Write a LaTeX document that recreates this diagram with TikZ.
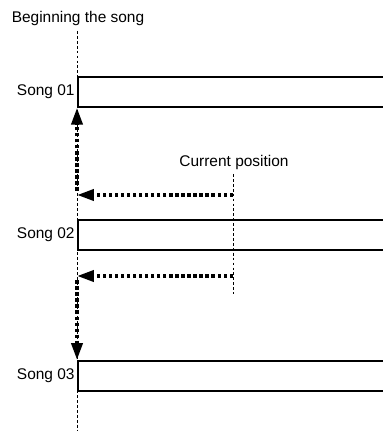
\documentclass[tikz,border=0pt]{standalone}
\usepackage{fontspec}
\setmainfont{Liberation Sans}
\usepackage{tikz}
\usetikzlibrary{arrows.meta}
\tikzstyle{songbox} = [rectangle,
anchor=north west,
minimum width=8.5cm,
minimum height=0.75cm,
inner sep=0pt,
draw=black,
line width=1.2pt,
fill=white]
\tikzstyle{songlabel} = [anchor=east, inner sep=1.5pt, font=\fontsize{11pt}{13pt}\selectfont]
\tikzstyle{guide} = [line width=0.5pt, dash pattern=on 2pt off 1.5pt]
\tikzstyle{dotarrow} = [line width=2.6pt, dash pattern=on 2.4pt off 1.9pt, -{Triangle[length=12pt,width=7.8pt]}]

\begin{document}
\begin{tikzpicture}[x=0.025cm, y=-0.025cm]
    \useasboundingbox (0,0) rectangle (382,432);

    \node (begin) [songlabel, anchor=center] at (78,19) {Beginning the song};
    \node (current) [songlabel, anchor=center] at (234,163) {Current position};

    \node (s1) [songbox] at (77,76) {};
    \node (s2) [songbox] at (77,219) {};
    \node (s3) [songbox] at (77,360) {};

    \node (l1) [songlabel] at (s1.west) {Song 01};
    \node (l2) [songlabel] at (s2.west) {Song 02};
    \node (l3) [songlabel] at (s3.west) {Song 03};

    % Guide lines
    \coordinate (btop) at (77,31);
    \coordinate (bbot) at (77,431);
    \coordinate (ctop) at (233,174);
    \coordinate (cbot) at (233,294);
    \draw [guide] (btop) -- (bbot);
    \draw [guide] (ctop) -- (cbot);

    % Jumps back
    \coordinate (c1) at (233,195);
    \coordinate (k1) at (77,195);
    \coordinate (c2) at (233,276);
    \coordinate (k2) at (77,276);
    \draw [dotarrow] (c1) -- (k1);
    \draw [dotarrow, shorten <=3pt] (k1) -- (s1.south west);
    \draw [dotarrow] (c2) -- (k2);
    \draw [dotarrow, shorten <=3pt] (k2) -- (s3.north west);
\end{tikzpicture}
\end{document}
